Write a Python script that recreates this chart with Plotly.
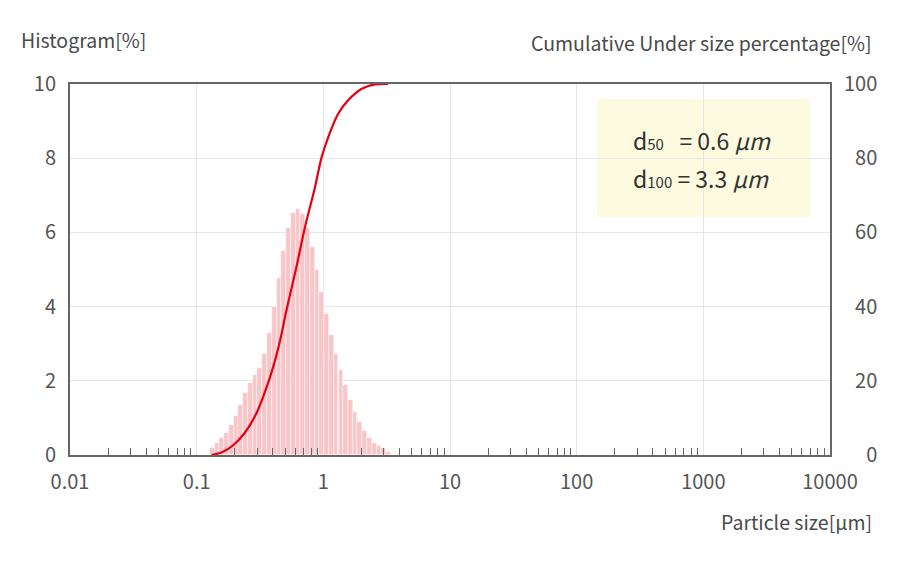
import plotly.graph_objects as go

# ---- data ----
bin_centers = [0.133, 0.145, 0.158, 0.172, 0.188, 0.205, 0.223, 0.243, 0.265, 0.289,
               0.315, 0.344, 0.375, 0.409, 0.446, 0.486, 0.530, 0.578, 0.631, 0.688,
               0.750, 0.818, 0.892, 0.973, 1.06, 1.16, 1.26, 1.38, 1.50, 1.64,
               1.78, 1.94, 2.12, 2.31, 2.52, 2.75, 3.00, 3.27]
histogram = [0.18, 0.33, 0.47, 0.59, 0.81, 1.05, 1.35, 1.67, 1.94, 2.16,
             2.34, 2.72, 3.29, 3.99, 4.76, 5.50, 6.11, 6.51, 6.62, 6.49,
             6.13, 5.61, 5.00, 4.40, 3.80, 3.24, 2.73, 2.28, 1.89, 1.49,
             1.17, 0.90, 0.66, 0.47, 0.33, 0.24, 0.18, 0.09]

cum_sizes = [0.131, 0.16, 0.195, 0.24, 0.297, 0.35, 0.403, 0.46, 0.513, 0.615, 0.716,
             0.859, 0.970, 1.094, 1.31, 1.57, 2.01, 2.55, 3.25]
cumulative = [0.0, 0.8, 2.7, 6.0, 11.3, 17.5, 23.9, 31.5, 39.2, 50.9, 61.4,
              72.2, 80.3, 85.7, 92.0, 95.6, 98.7, 99.9, 100.0]

x_tick_vals = [0.01, 0.1, 1, 10, 100, 1000, 10000]
x_tick_text = ["0.01", "0.1", "1", "10", "100", "1000", "10000"]
y_tick_vals = [0, 2, 4, 6, 8, 10]
y2_tick_vals = [0, 20, 40, 60, 80, 100]
minor_vals = [m * d for d in [0.01, 0.1, 1, 10, 100, 1000] for m in range(2, 10)]

label_d50 = 'd<span style="font-size:15px">50</span>   = 0.6 <i>µm</i>'
label_d100 = 'd<span style="font-size:15px">100</span> = 3.3 <i>µm</i>'

FONT = "Noto Sans CJK JP, Noto Sans, sans-serif"
TXT = "#4a4a4a"
TICK = "#555555"
AX = "#666666"
GRID = "#e6e6e6"

# right-axis labels are right-aligned: pad with figure spaces (digit-width)
y2_tick_text = [("\u2007" * (3 - len(str(v)))) + str(v) for v in y2_tick_vals]

# bar geometry on a log axis: each bin spans one 2^(1/8) ratio step
step = 2 ** (1 / 8)
lo = step ** -0.5
hi = step ** 0.5
bar_offsets = [c * (lo - 1) for c in bin_centers]
bar_widths = [c * (hi - lo) for c in bin_centers]

fig = go.Figure()
fig.add_trace(go.Bar(
    x=bin_centers, y=histogram, offset=bar_offsets, width=bar_widths,
    marker=dict(color="#f8c6c8", line=dict(width=0.6, color="rgba(255,255,255,0.75)")),
    yaxis="y", showlegend=False,
))
fig.add_trace(go.Scatter(
    x=cum_sizes, y=cumulative, mode="lines",
    line=dict(color="#e60012", width=2.2, shape="spline"),
    yaxis="y2", showlegend=False,
))

# the page body adds 8px offset; margins compensate so plot area sits at x 70-830, y 84-455
fig.update_layout(
    width=900, height=564,
    margin=dict(l=62, r=78, t=76, b=117, autoexpand=False),
    paper_bgcolor="white", plot_bgcolor="white",
    font=dict(family=FONT, color=TXT),
    xaxis=dict(
        type="log", range=[-2, 4], tickvals=x_tick_vals, ticktext=x_tick_text,
        ticks="", showgrid=True, gridcolor=GRID, gridwidth=1,
        showline=True, linecolor=AX, linewidth=2, mirror=True,
        tickfont=dict(size=20, color=TICK), ticklabelstandoff=8,
        minor=dict(tickmode="array", tickvals=minor_vals, ticks="inside", ticklen=7,
                   tickcolor=AX, tickwidth=1.3, showgrid=False),
        zeroline=False, automargin=False,
    ),
    yaxis=dict(
        range=[0, 10], tickvals=y_tick_vals, ticks="", showgrid=True,
        gridcolor=GRID, gridwidth=1, showline=True, linecolor=AX, linewidth=2,
        tickfont=dict(size=20, color=TICK), ticklabelstandoff=8,
        zeroline=False, automargin=False,
    ),
    yaxis2=dict(
        range=[0, 100], tickvals=y2_tick_vals, ticktext=y2_tick_text,
        overlaying="y", side="right",
        ticks="", showgrid=False, showline=True, linecolor=AX, linewidth=2,
        tickfont=dict(size=20, color=TICK), ticklabelstandoff=8,
        zeroline=False, automargin=False,
    ),
    bargap=0,
)

# legend box
fig.add_shape(type="rect", xref="paper", yref="paper",
              x0=(597 - 70) / 760, x1=(810 - 70) / 760,
              y0=(455 - 217) / 371, y1=(455 - 99) / 371,
              fillcolor="#fdfbdf", line=dict(width=0), layer="below")
fig.add_annotation(xref="paper", yref="paper", x=(631 - 70) / 760, y=(455 - 140) / 371,
                   text=label_d50, showarrow=False, xanchor="left", yanchor="middle",
                   font=dict(size=23, color="#333333", family=FONT))
fig.add_annotation(xref="paper", yref="paper", x=(631 - 70) / 760, y=(455 - 178) / 371,
                   text=label_d100, showarrow=False, xanchor="left", yanchor="middle",
                   font=dict(size=23, color="#333333", family=FONT))

# axis titles
fig.add_annotation(xref="paper", yref="paper", x=-51 / 760, y=(455 - 40) / 371,
                   text="Histogram[%]", showarrow=False, xanchor="left", yanchor="middle",
                   font=dict(size=19.5, color=TXT))
fig.add_annotation(xref="paper", yref="paper", x=(874 - 70) / 760, y=(455 - 42) / 371,
                   text="Cumulative Under size percentage[%]", showarrow=False,
                   xanchor="right", yanchor="middle", font=dict(size=19.5, color=TXT))
fig.add_annotation(xref="paper", yref="paper", x=(874 - 70) / 760, y=(455 - 521) / 371,
                   text="Particle size[µm]", showarrow=False,
                   xanchor="right", yanchor="middle", font=dict(size=19.5, color=TXT))

fig.write_html("out.html")
